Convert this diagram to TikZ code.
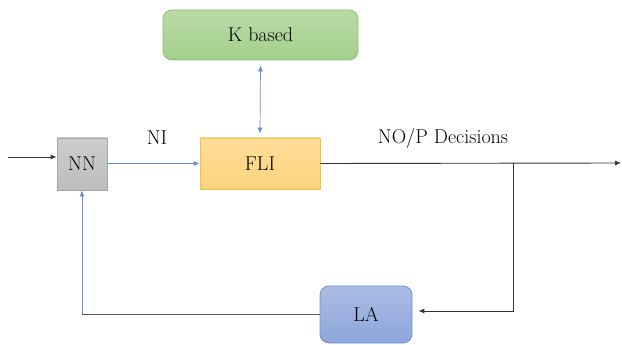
\documentclass[tikz,border=0pt]{standalone}
\usetikzlibrary{arrows.meta}
\definecolor{nnfill}{HTML}{BDBDBD}
\definecolor{nnline}{HTML}{A6A6A6}
\definecolor{flifill}{HTML}{FFD47F}
\definecolor{fliline}{HTML}{F4C242}
\definecolor{kfill}{HTML}{A3CF8C}
\definecolor{kline}{HTML}{8CBF72}
\definecolor{lafill}{HTML}{8EA6DC}
\definecolor{laline}{HTML}{7690C8}
\definecolor{bluearrow}{HTML}{4472C4}
\definecolor{grayline}{HTML}{595959}
\tikzset{
  x=1pt,y=-1pt,
  every node/.style={font=\fontsize{20}{24}\selectfont},
  blk/.style={draw,line width=0.8pt,inner sep=0pt,minimum width=#1},
  blueconn/.style={draw=bluearrow!80,line width=0.7pt,-{Latex[length=6pt,width=5pt]}},
  blackconn/.style={draw=black!80,line width=0.9pt,-{Latex[length=6pt,width=5pt]}},
  lbl/.style={inner sep=1pt}
}
\begin{document}
\begin{tikzpicture}
\useasboundingbox (0,0) rectangle (622,345);
\node[blk=50pt,minimum height=52pt,draw=nnline,top color=nnfill!75!white,bottom color=nnfill] (nn) at (82,164) {NN};
\node[blk=120pt,minimum height=51pt,draw=fliline,top color=flifill!80!white,bottom color=flifill] (fli) at (260,163.5) {FLI};
\node[blk=195pt,minimum height=50pt,draw=kline,top color=kfill!75!white,bottom color=kfill,rounded corners=9pt] (k) at (260.5,35) {K based};
\node[blk=92pt,minimum height=57pt,draw=laline,top color=lafill!75!white,bottom color=lafill,rounded corners=9pt] (la) at (366,314.5) {LA};
\node[lbl] (ni) at (157,138) {NI};
\node[lbl] (nop) at (443,138) {NO/P Decisions};
\coordinate (in) at (8,157);
\coordinate (out) at (621,163);
\coordinate (br) at (513,163);
\coordinate (brd) at (513,311);
\coordinate (fb) at (82,314);
\draw[blackconn] (in) -- (in -| nn.west);
\draw[blueconn] (nn.east |- fli) -- (fli.west);
\draw[bluearrow!80,line width=0.7pt,{Latex[length=6pt,width=5pt]}-{Latex[length=6pt,width=5pt]}] ([yshift=-5pt]k.south) -- ([yshift=4pt]fli.north);
\draw[blackconn] (fli.east) -- (out);
\draw[blackconn] (br) -- (brd) -- ([xshift=6pt]la.east |- brd);
\draw[grayline,line width=0.8pt] (la.west |- fb) -- (fb);
\draw[blueconn] (fb) -- (nn.south);
\end{tikzpicture}
\end{document}
